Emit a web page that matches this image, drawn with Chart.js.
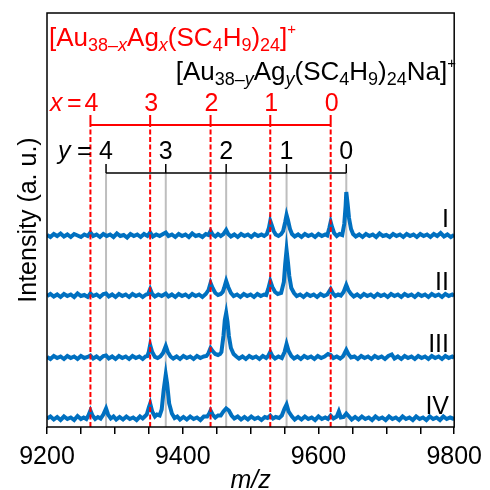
<!DOCTYPE html>
<html>
<head>
<meta charset="utf-8">
<script src="https://cdn.jsdelivr.net/npm/chart.js@4.4.1/dist/chart.umd.min.js"></script>
<style>
  html, body { margin: 0; padding: 0; background: #fff; }
  #wrap { width: 490px; height: 490px; }
</style>
</head>
<body>
<div id="wrap"><canvas id="ms" width="490" height="490"></canvas></div>
<script>
// ----------------------------
// data (m/z, intensity a.u.)
// ----------------------------

const xTicks = [9200, 9400, 9600, 9800];
const redPos = [9264, 9352, 9441, 9529, 9618];   // [Au38-xAgx(SC4H9)24]+, x = 4..0
const grayPos = [9287, 9375, 9464, 9553, 9641];  // [Au38-yAgy(SC4H9)24Na]+, y = 4..0
const countLabels = ["4", "3", "2", "1", "0"];
const traceNames = ["I", "II", "III", "IV"];

const spectrumI = [
  [9200, 1], [9205, -1], [9210, 2], [9215, 0], [9220, 2.5], [9225, -0.5], [9230, 1.5], [9235, -1], [9240, 2],
  [9245, 0.5], [9250, -1], [9255, 1.5], [9260, 0], [9264, 3.5], [9268, 0], [9273, 1.5], [9278, -1], [9283, 2],
  [9288, 0], [9293, 1.5], [9298, -1], [9303, 2.5], [9308, 0], [9313, 1], [9318, -1.5], [9323, 2], [9328, 0],
  [9333, 1.5], [9338, -1], [9343, 2], [9348, 0], [9352, 3.5], [9356, -0.5], [9361, 1.5], [9366, 0], [9371, 2],
  [9375, 3.5], [9379, 0], [9384, 1.5], [9389, -1], [9394, 2], [9399, 0], [9404, 1.5], [9409, -1], [9414, 2.5],
  [9419, 0], [9424, 1], [9429, -1], [9434, 2], [9438, 1], [9441, 5], [9444, 1.5], [9448, -0.5], [9452, 2],
  [9456, 0], [9460, 2], [9464, 6], [9467, 2], [9471, -0.5], [9476, 1.5], [9481, -1], [9486, 2], [9491, 0],
  [9496, 1.5], [9501, -1], [9506, 2], [9511, 0], [9516, 1.5], [9520, 0], [9524, 2], [9527, 8], [9529, 15],
  [9531, 11], [9534, 5], [9537, 1.5], [9541, 0], [9545, 2], [9548, 5], [9551, 14], [9553, 21], [9555, 16],
  [9558, 7], [9561, 2], [9565, -0.5], [9570, 1.5], [9575, -1], [9580, 2], [9585, 0], [9590, 1.5], [9595, -1],
  [9600, 2], [9605, 0], [9610, 1.5], [9613, 0.5], [9616, 8], [9618, 14], [9620, 9], [9623, 3], [9627, 0],
  [9631, 2], [9635, 1], [9638, 12], [9640, 30], [9641, 44], [9643, 32], [9645, 18], [9648, 7], [9651, 2],
  [9655, -0.5], [9660, 1.5], [9665, -1], [9670, 2], [9675, 0], [9680, 1.5], [9685, -1], [9690, 2.5], [9695, 0],
  [9700, 1], [9705, -1], [9710, 2], [9715, 0], [9720, 1.5], [9725, -1], [9730, 2], [9735, 0], [9740, 1.5],
  [9745, -1], [9750, 2], [9755, 0], [9760, 1.5], [9765, -1], [9770, 2], [9775, 0], [9780, 3], [9785, -0.5],
  [9790, 1.5], [9795, -1], [9800, 1]
];

const spectrumII = [
  [9200, 0], [9205, 2], [9210, -0.5], [9215, 1.5], [9220, -1], [9225, 2], [9230, 0], [9235, 1.5], [9240, -1],
  [9245, 2.5], [9250, 0], [9255, 1], [9260, -1], [9264, 2.5], [9268, 0], [9273, 1.5], [9278, -1], [9283, 2],
  [9287, 2.5], [9291, -0.5], [9296, 1.5], [9301, -1], [9306, 2], [9311, 0], [9316, 1.5], [9321, -1], [9326, 2],
  [9331, 0], [9336, 1.5], [9341, -1], [9346, 1.5], [9349, 2], [9352, 7], [9355, 2], [9359, -0.5], [9364, 1.5],
  [9369, 0], [9375, 2.5], [9379, -0.5], [9384, 1.5], [9389, -1], [9394, 2], [9399, 0], [9404, 1.5], [9409, -1],
  [9414, 2], [9419, 0], [9424, 1.5], [9429, -1], [9434, 2], [9438, 6], [9441, 13], [9444, 8], [9448, 3],
  [9452, 1], [9456, 2], [9459, 4], [9461, 8], [9464, 15], [9467, 9], [9471, 3], [9475, 0], [9480, 1.5],
  [9485, -1], [9490, 2], [9495, 0], [9500, 1.5], [9505, -1], [9510, 2], [9515, 0], [9520, 1.5], [9523, 1],
  [9526, 7], [9529, 15], [9532, 9], [9536, 4], [9540, 2], [9545, 3], [9549, 14], [9551, 32], [9553, 46],
  [9555, 34], [9557, 20], [9560, 8], [9564, 3], [9568, 0], [9573, 1.5], [9578, -1], [9583, 2], [9588, 0],
  [9593, 1.5], [9598, -1], [9603, 2], [9608, 0], [9613, 1.5], [9618, 7], [9621, 3], [9625, 0], [9629, 1.5],
  [9633, 0.5], [9637, 4], [9641, 11], [9644, 6], [9648, 2], [9652, -0.5], [9657, 1.5], [9662, -1], [9667, 2],
  [9672, 0], [9677, 1.5], [9682, -1], [9687, 2], [9692, 0], [9697, 1.5], [9702, -1], [9707, 2], [9712, 0],
  [9717, 1.5], [9722, -1], [9727, 2], [9732, 0], [9737, 1.5], [9742, -1], [9747, 2], [9752, 0], [9757, 1.5],
  [9762, -1], [9767, 2], [9772, 0], [9777, 1.5], [9782, -1], [9787, 2], [9792, 0], [9797, 1.5], [9800, 0]
];

const spectrumIII = [
  [9200, 1], [9205, -1], [9210, 2], [9215, 0], [9220, 1.5], [9225, -1], [9230, 2], [9235, 0], [9240, 1.5],
  [9245, -1], [9250, 2], [9255, 0], [9260, 1], [9264, 2.5], [9268, -0.5], [9273, 1.5], [9278, -1], [9283, 2],
  [9287, 2.5], [9291, -0.5], [9296, 1.5], [9301, -1], [9306, 2], [9311, 0], [9316, 1.5], [9321, -1], [9326, 2],
  [9331, 0], [9336, 1.5], [9341, -1], [9345, 1.5], [9348, 2], [9350, 6], [9352, 13], [9355, 6], [9359, 1],
  [9363, 0], [9367, 1.5], [9371, 5], [9375, 12], [9378, 6], [9382, 1.5], [9386, -0.5], [9391, 1.5], [9396, -1],
  [9401, 2], [9406, 0], [9411, 1.5], [9416, -1], [9421, 2], [9426, 0], [9431, 1.5], [9435, 2], [9438, 5],
  [9441, 10], [9444, 7], [9448, 4], [9452, 3], [9455, 4], [9457, 6], [9460, 22], [9462, 38], [9464, 45],
  [9466, 36], [9468, 22], [9471, 10], [9475, 4], [9479, 1.5], [9483, -0.5], [9488, 1.5], [9493, -1], [9498, 2],
  [9503, 0], [9508, 1.5], [9513, -1], [9518, 2], [9523, 0], [9526, 2], [9529, 6], [9532, 2], [9536, -0.5],
  [9541, 1.5], [9546, 0], [9550, 6], [9553, 14], [9556, 7], [9560, 2], [9564, -0.5], [9569, 1.5], [9574, -1],
  [9579, 2], [9584, 0], [9589, 1.5], [9594, -1], [9599, 2], [9604, 0], [9609, 1.5], [9614, 4], [9618, 3],
  [9622, 0], [9627, 1.5], [9632, -0.5], [9636, 1.5], [9638, 4], [9641, 8], [9644, 4], [9648, 0.5], [9653, 1.5],
  [9658, -1], [9663, 2], [9668, 0], [9673, 1.5], [9678, -1], [9683, 2], [9688, 0], [9693, 1.5], [9698, -1],
  [9703, 2], [9708, 3.5], [9712, -0.5], [9717, 1.5], [9722, -1], [9727, 2], [9732, 0], [9737, 1.5], [9742, -1],
  [9747, 2], [9752, 0], [9757, 1.5], [9762, -1], [9767, 2], [9772, 0], [9777, 1.5], [9782, -1], [9787, 2],
  [9792, 0], [9797, 1.5], [9800, 0]
];

const spectrumIV = [
  [9200, 1], [9205, 3], [9210, 0], [9215, 2.5], [9220, -0.5], [9225, 3], [9230, 0.5], [9235, 2], [9240, -0.5],
  [9245, 3.5], [9250, 0.5], [9254, 2], [9258, 0.5], [9261, 4], [9264, 9], [9267, 4], [9271, 0.5], [9275, 2.5],
  [9279, 1], [9283, 5], [9287, 11], [9290, 5], [9294, 1], [9298, 3], [9302, 0], [9307, 2.5], [9312, 0],
  [9317, 3], [9322, 0.5], [9327, 2], [9332, -0.5], [9337, 3], [9341, 1], [9344, 3], [9347, 5], [9350, 12],
  [9352, 16], [9355, 8], [9359, 3], [9362, 5], [9366, 4], [9369, 10], [9372, 30], [9375, 45], [9377, 36],
  [9380, 16], [9384, 6], [9388, 1.5], [9392, 3], [9396, 0], [9401, 2.5], [9406, 0], [9411, 3], [9416, 0.5],
  [9421, 2], [9426, -0.5], [9431, 3], [9436, 3], [9439, 6], [9441, 9], [9444, 5], [9448, 2], [9452, 4],
  [9456, 4], [9460, 8], [9464, 11], [9468, 9], [9472, 4], [9476, 1], [9481, 3], [9486, 0], [9491, 2.5],
  [9496, 0], [9501, 3], [9506, 0.5], [9511, 2], [9516, -0.5], [9521, 2.5], [9525, 1.5], [9529, 4], [9533, 1],
  [9537, 2.5], [9542, 1.5], [9546, 4], [9550, 11], [9553, 15], [9556, 8], [9561, 3], [9565, 0], [9570, 2.5],
  [9575, 0], [9580, 3], [9585, 0.5], [9590, 2], [9595, -0.5], [9600, 3], [9605, 0.5], [9610, 2], [9614, 0.5],
  [9618, 4], [9622, 1], [9627, 3], [9630, 8], [9633, 2], [9637, 2.5], [9641, 6], [9645, 3], [9649, 0],
  [9654, 2.5], [9659, 0], [9664, 3], [9669, 0.5], [9674, 2], [9679, -0.5], [9684, 3], [9689, 0.5], [9694, 2],
  [9699, -0.5], [9704, 3], [9709, 0.5], [9714, 2], [9719, -0.5], [9724, 3], [9729, 0.5], [9734, 2], [9739, -0.5],
  [9744, 3], [9749, 0.5], [9754, 2], [9759, -0.5], [9764, 3], [9769, 0.5], [9774, 2], [9779, -0.5], [9784, 3],
  [9789, 0.5], [9794, 2], [9800, 0.5]
];

const spectra = [spectrumI, spectrumII, spectrumIII, spectrumIV];


// ----------------------------
// layout / style
// ----------------------------

const FONT = '"Liberation Sans", Arial, sans-serif';
const BLUE = "#0070C0";
const RED = "#FF0000";
const GRAY = "#BEBEBE";

const Y_MAX = 414;
const traceOffsets = [191, 131, 69, 7.5];   // vertical stacking of the four spectra
const RED_BAR = 302, RED_TICK = 312;
const BLACK_BAR = 254, BLACK_TICK = 263;


// ----------------------------
// datasets
// ----------------------------

const datasets = [];

spectra.forEach(function (spec, i) {
  datasets.push({
    data: spec.map(p => [p[0], p[1] + traceOffsets[i]]),
    borderColor: BLUE,
    borderWidth: 4,
    borderJoinStyle: "miter",
    order: 1
  });
});

redPos.forEach(function (m) {
  datasets.push({ data: [[m, 0], [m, RED_BAR]], borderColor: RED, borderWidth: 2, borderDash: [5, 2.5], order: 0 });
  datasets.push({ data: [[m, RED_BAR], [m, RED_TICK]], borderColor: RED, borderWidth: 2, order: 0 });
});
datasets.push({ data: [[redPos[0], RED_BAR], [redPos[4], RED_BAR]], borderColor: RED, borderWidth: 2, order: 0 });

grayPos.forEach(function (m) {
  datasets.push({ data: [[m, 0], [m, BLACK_BAR]], borderColor: GRAY, borderWidth: 2, order: 2 });
  datasets.push({ data: [[m, BLACK_BAR], [m, BLACK_TICK]], borderColor: "#000", borderWidth: 1.5, order: 0 });
});
datasets.push({ data: [[grayPos[0], BLACK_BAR], [grayPos[4], BLACK_BAR]], borderColor: "#000", borderWidth: 1.5, order: 0 });


// ----------------------------
// text helpers
// ----------------------------

function partFont(kind) {
  if (kind === "n") return "26px " + FONT;
  if (kind === "s") return "18px " + FONT;
  if (kind === "si") return "italic 18px " + FONT;
  return "15px " + FONT;  // superscript
}

function richText(ctx, parts, x, y, align) {
  let w = 0;
  parts.forEach(function (p) { ctx.font = partFont(p[1]); w += ctx.measureText(p[0]).width; });
  let cx = align === "right" ? x - w : x;
  parts.forEach(function (p) {
    ctx.font = partFont(p[1]);
    let dy = 0;
    if (p[1] === "s" || p[1] === "si") dy = 5;
    if (p[1] === "p") dy = -12;
    ctx.fillText(p[0], cx, y + dy);
    cx += ctx.measureText(p[0]).width;
  });
}

const redFormula = [
  ["[Au", "n"], ["38\u2013", "s"], ["x", "si"], ["Ag", "n"], ["x", "si"], ["(SC", "n"], ["4", "s"],
  ["H", "n"], ["9", "s"], [")", "n"], ["24", "s"], ["]", "n"], ["+", "p"]
];
const blackFormula = [
  ["[Au", "n"], ["38\u2013", "s"], ["y", "si"], ["Ag", "n"], ["y", "si"], ["(SC", "n"], ["4", "s"],
  ["H", "n"], ["9", "s"], [")", "n"], ["24", "s"], ["Na]", "n"], ["+", "p"]
];

const annotations = {
  id: "annotations",
  afterDraw(chart) {
    const ctx = chart.ctx;
    const xs = chart.scales.x, ys = chart.scales.y;
    const a = chart.chartArea;
    ctx.save();

    // frame
    ctx.strokeStyle = "#000";
    ctx.lineWidth = 1.5;
    ctx.strokeRect(a.left, a.top, a.right - a.left, a.bottom - a.top);

    ctx.textBaseline = "alphabetic";

    // formulas
    ctx.fillStyle = RED;
    ctx.textAlign = "left";
    richText(ctx, redFormula, 49, 46, "left");
    ctx.fillStyle = "#000";
    richText(ctx, blackFormula, 456, 80, "right");

    // x = ... row
    ctx.fillStyle = RED;
    ctx.font = "italic 25px " + FONT;
    ctx.textAlign = "left";
    ctx.fillText("x", 50, 111);
    ctx.font = "25px " + FONT;
    ctx.fillText("=", 67, 111);
    ctx.textAlign = "center";
    redPos.forEach(function (m, i) {
      ctx.fillText(countLabels[i], xs.getPixelForValue(m) + 1, 111);
    });

    // y = ... row
    ctx.fillStyle = "#000";
    ctx.font = "italic 25px " + FONT;
    ctx.textAlign = "left";
    ctx.fillText("y", 58, 159);
    ctx.font = "25px " + FONT;
    ctx.fillText("=", 77, 159);
    ctx.textAlign = "center";
    grayPos.forEach(function (m, i) {
      ctx.fillText(countLabels[i], xs.getPixelForValue(m), 159);
    });

    // trace names
    ctx.textAlign = "right";
    traceNames.forEach(function (name, i) {
      const lift = i === 0 ? 9 : 6;
      ctx.fillText(name, 449, ys.getPixelForValue(traceOffsets[i]) - lift);
    });

    // axis titles
    ctx.textAlign = "center";
    ctx.font = "italic 25px " + FONT;
    ctx.fillText("m/z", (a.left + a.right) / 2, 488);

    ctx.translate(36, (a.top + a.bottom) / 2);
    ctx.rotate(-Math.PI / 2);
    ctx.font = "25px " + FONT;
    ctx.fillText("Intensity (a. u.)", 0, 0);

    ctx.restore();
  }
};


// ----------------------------
// chart
// ----------------------------

new Chart(document.getElementById("ms"), {
  type: "line",
  data: { datasets: datasets },
  options: {
    responsive: false,
    animation: false,
    devicePixelRatio: 1,
    layout: { padding: { left: 47, top: 13, right: 31, bottom: 0 } },
    elements: { point: { radius: 0 }, line: { tension: 0 } },
    plugins: { legend: { display: false }, tooltip: { enabled: false } },
    scales: {
      x: {
        type: "linear",
        min: 9200,
        max: 9800,
        afterFit(scale) { scale.height = 63; },
        border: { display: false },
        grid: { drawOnChartArea: false, drawTicks: true, tickLength: 7, color: "#000", lineWidth: 1.5 },
        ticks: {
          stepSize: 50,
          autoSkip: false,
          maxRotation: 0,
          padding: 8,
          color: "#000",
          font: { family: FONT, size: 25 },
          callback: function (v) { return xTicks.includes(v) ? String(v) : ""; }
        }
      },
      y: { display: false, min: 0, max: Y_MAX }
    }
  },
  plugins: [annotations]
});
</script>
</body>
</html>
